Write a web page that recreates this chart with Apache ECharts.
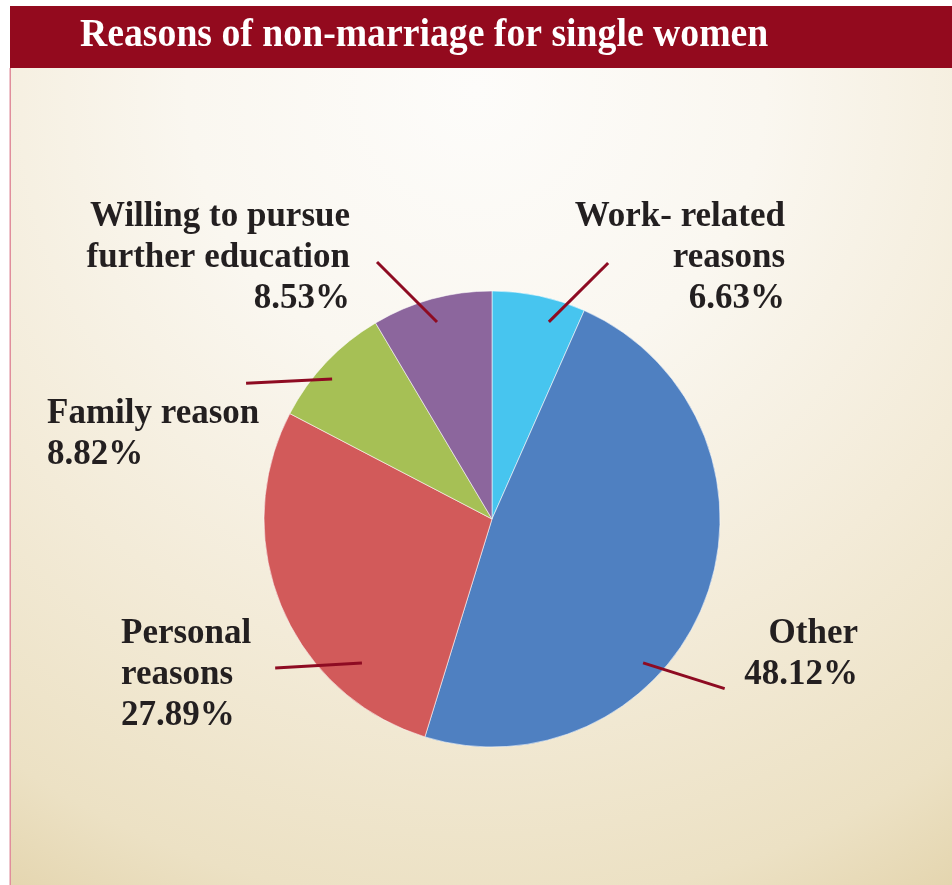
<!DOCTYPE html>
<html>
<head>
<meta charset="utf-8">
<script src="https://cdn.jsdelivr.net/npm/echarts@6/dist/echarts.min.js"></script>
<style>
  html, body { margin: 0; padding: 0; background: #ffffff; }
  #chart { width: 952px; height: 885px; }
</style>
</head>
<body>
<div id="chart"></div>
<script>
// Reasons given by single women for not marrying (percent of respondents)
const categories = ['Work- related\nreasons', 'Other', 'Personal\nreasons', 'Family reason', 'Willing to pursue\nfurther education'];
const shares = [6.63, 48.12, 27.89, 8.82, 8.53];
const sliceColors = ['#47C5EF', '#4F80C1', '#D25A5A', '#A6C055', '#8C669D'];
const chartTitle = 'Reasons of non-marriage for single women';

// Pie geometry (px)
const PIE_CX = 492, PIE_CY = 519, PIE_R = 228;

// Label block anchor + leader line, the line given in polar terms:
// [degrees clockwise from 12 o'clock, fraction of the pie radius]
const labelPlacement = [
  { x: 785, y: 196, align: 'right', line: [[16.1, 0.90], [24.4, 1.233]] },
  { x: 858, y: 613, align: 'right', line: [[133.6, 0.915], [126.1, 1.263]] },
  { x: 121, y: 613, align: 'left',  line: [[222.1, 0.851], [235.5, 1.154]] },
  { x: 47,  y: 393, align: 'left',  line: [[311.2, 0.932], [298.9, 1.232]] },
  { x: 350, y: 196, align: 'right', line: [[344.4, 0.897], [335.9, 1.235]] }
];

function polarPoint(pt) {
  const a = pt[0] * Math.PI / 180;
  const r = pt[1] * PIE_R;
  return [PIE_CX + r * Math.sin(a), PIE_CY - r * Math.cos(a)];
}

const pieData = categories.map((name, i) => ({
  name: name,
  value: shares[i],
  itemStyle: { color: sliceColors[i] }
}));

const chart = echarts.init(document.getElementById('chart'), null, { renderer: 'canvas' });

chart.setOption({
  backgroundColor: '#ffffff',
  animation: false,
  graphic: [
    {
      type: 'rect', z: -10,
      shape: { x: 11, y: 68, width: 941, height: 817 },
      style: {
        fill: {
          type: 'radial', x: 476, y: 90, r: 960, global: true,
          colorStops: [
            { offset: 0, color: '#FDFCFA' },
            { offset: 0.3, color: '#FAF7F0' },
            { offset: 0.6, color: '#F3EBD8' },
            { offset: 0.85, color: '#ECE1C4' },
            { offset: 1, color: '#E2D2A9' }
          ]
        }
      }
    },
    {
      type: 'rect', z: -9,
      shape: { x: 9.5, y: 68, width: 1.5, height: 817 },
      style: { fill: '#E08E9C' }
    },
    {
      type: 'rect', z: -8,
      shape: { x: 10, y: 6, width: 942, height: 62 },
      style: { fill: '#930A1E' }
    },
    {
      type: 'text', z: -7,
      x: 80, y: 35, scaleX: 0.92,
      style: {
        text: chartTitle,
        fill: '#ffffff',
        font: 'bold 41px "Liberation Serif", "Times New Roman", serif',
        textAlign: 'left',
        textVerticalAlign: 'middle'
      }
    }
  ],
  series: [
    {
      // the slices
      type: 'pie',
      z: 2,
      center: [PIE_CX, PIE_CY],
      radius: PIE_R,
      startAngle: 90,
      clockwise: true,
      data: pieData,
      itemStyle: { borderColor: 'rgba(255,255,255,0.55)', borderWidth: 1 },
      label: { show: false },
      labelLine: { show: false },
      emphasis: { disabled: true },
      silent: true
    },
    {
      // same values again, invisible sectors, carrying labels and leader lines on top
      type: 'pie',
      z: 5,
      center: [PIE_CX, PIE_CY],
      radius: PIE_R,
      startAngle: 90,
      clockwise: true,
      avoidLabelOverlap: false,
      data: categories.map((name, i) => ({ name: name, value: shares[i] })),
      itemStyle: { color: 'rgba(0,0,0,0)', borderWidth: 0 },
      label: {
        show: true,
        position: 'outside',
        formatter: p => p.name + '\n' + p.value.toFixed(2) + '%',
        fontFamily: '"Liberation Serif", "Times New Roman", serif',
        fontWeight: 'bold',
        fontSize: 35,
        lineHeight: 41,
        color: '#231F20'
      },
      labelLine: {
        show: true,
        length: 20,
        length2: 0,
        lineStyle: { color: '#8E0B22', width: 3 }
      },
      labelLayout: function (params) {
        const p = labelPlacement[params.dataIndex];
        return {
          x: p.x,
          y: p.y,
          align: p.align,
          verticalAlign: 'top',
          labelLinePoints: p.line.map(polarPoint)
        };
      },
      emphasis: { disabled: true },
      silent: true
    }
  ]
});
</script>
</body>
</html>
